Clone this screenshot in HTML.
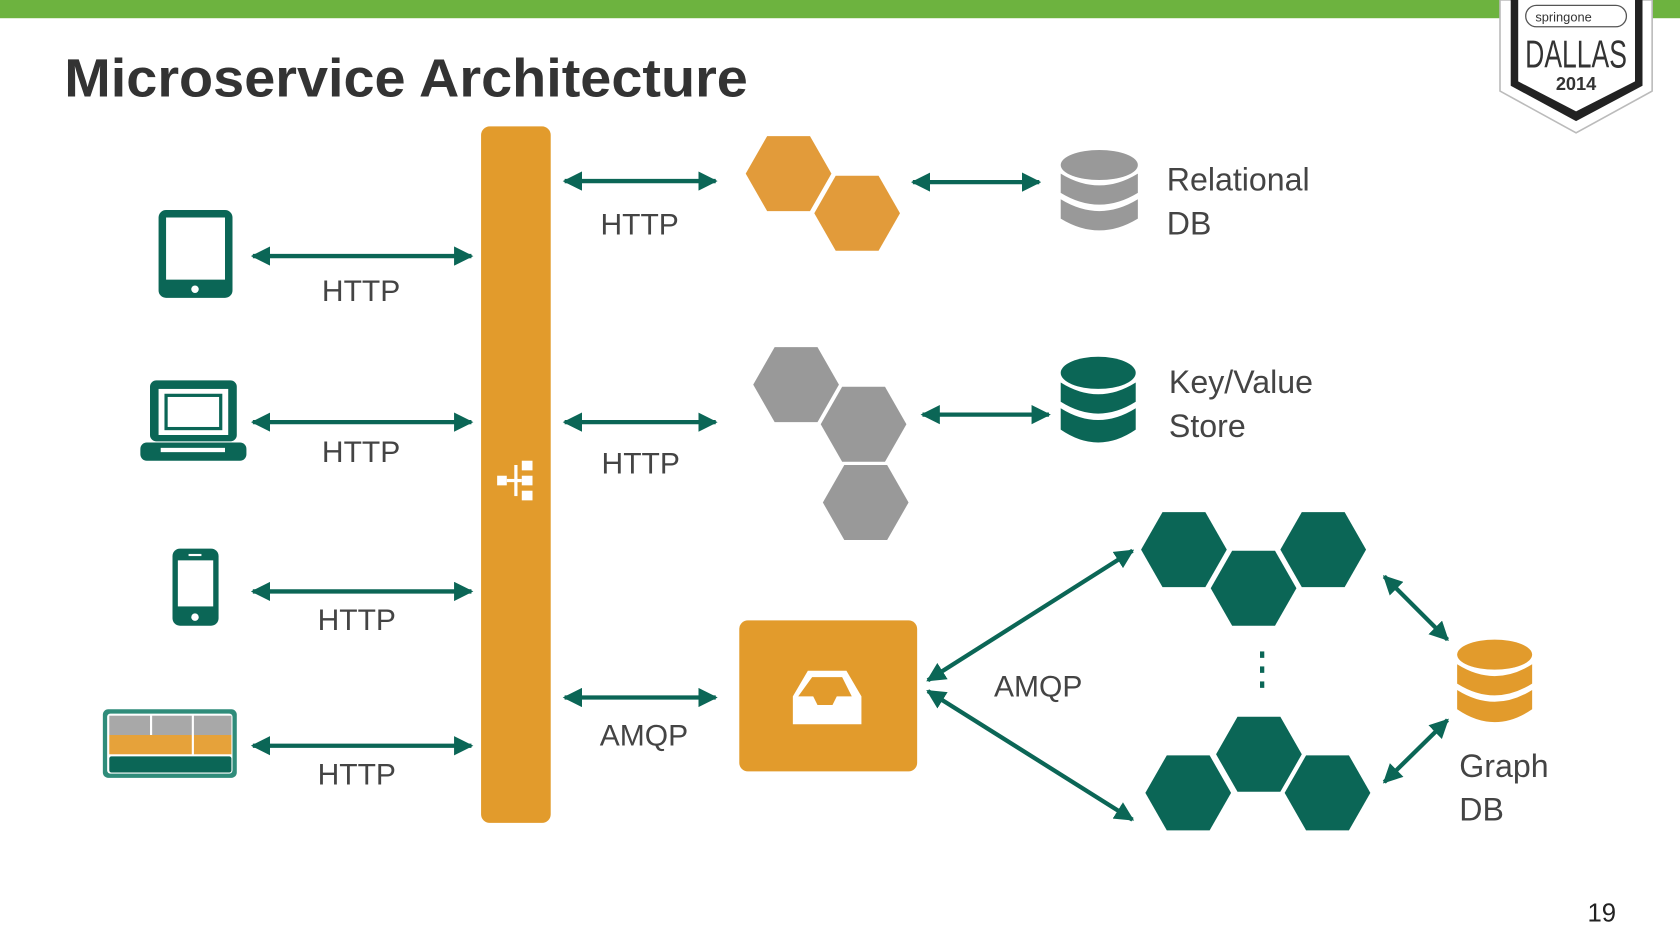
<!DOCTYPE html>
<html><head><meta charset="utf-8"><style>
html,body{margin:0;padding:0;background:#fff;}
svg{display:block;}
text{font-family:"Liberation Sans",sans-serif;}
</style></head><body>
<svg width="1680" height="945" viewBox="0 0 1568 882" xmlns="http://www.w3.org/2000/svg">
<defs>
<marker id="a" viewBox="0 0 10 10" refX="9" refY="5" markerWidth="4.5" markerHeight="4.5" orient="auto-start-reverse">
<path d="M0,0 L10,5 L0,10 z" fill="#0b6656"/></marker>
<polygon id="hx" points="-40,0 -20,-35 20,-35 40,0 20,35 -20,35"/>
</defs>
<rect x="0" y="0" width="1568" height="17" fill="#6db33f"/>
<text x="60" y="90" font-size="50" font-weight="bold" fill="#333" textLength="638" lengthAdjust="spacingAndGlyphs">Microservice Architecture</text>
<!-- logo -->
<polygon points="1400,0 1542,0 1542,85 1471,124 1400,85" fill="#fff" stroke="#bbb" stroke-width="1.5"/>
<polygon points="1410,0 1533,0 1533,80 1471,113 1410,80" fill="#222"/>
<polygon points="1417,0 1526,0 1526,76 1471,104 1417,76" fill="#fff"/>
<rect x="1424" y="5" width="94" height="20" rx="10" fill="none" stroke="#555" stroke-width="1.2"/>
<text x="1433" y="20" font-size="12" fill="#333">springone</text>
<text x="1471" y="63" font-size="36" text-anchor="middle" fill="#333" textLength="95" lengthAdjust="spacingAndGlyphs">DALLAS</text>
<text x="1471" y="84" font-size="17" text-anchor="middle" fill="#333" font-weight="bold">2014</text>
<!-- orange bar -->
<rect x="449" y="118" width="65" height="650" rx="8" fill="#e29b2c"/>
<g fill="#fff"><rect x="464" y="444" width="9" height="9"/><rect x="487" y="430" width="10" height="9"/><rect x="487" y="444" width="10" height="9"/><rect x="487" y="458" width="10" height="9"/><rect x="473" y="447" width="14" height="3"/><rect x="480" y="434" width="3" height="29"/></g>
<!-- arrows -->
<g stroke="#0b6656" stroke-width="4" marker-start="url(#a)" marker-end="url(#a)">
<line x1="236" y1="239" x2="440" y2="239"/><line x1="236" y1="394" x2="440" y2="394"/>
<line x1="236" y1="552" x2="440" y2="552"/><line x1="236" y1="696" x2="440" y2="696"/>
<line x1="527" y1="169" x2="668" y2="169"/><line x1="527" y1="394" x2="668" y2="394"/>
<line x1="527" y1="651" x2="668" y2="651"/>
<line x1="852" y1="170" x2="970" y2="170"/><line x1="861" y1="387" x2="979" y2="387"/>
<line x1="866" y1="635" x2="1057" y2="514"/><line x1="866" y1="645" x2="1057" y2="765"/>
<line x1="1292" y1="538" x2="1351" y2="597"/><line x1="1292" y1="730" x2="1351" y2="672"/>
</g>
<g font-size="28" fill="#444" text-anchor="middle">
<text x="337" y="281">HTTP</text><text x="337" y="431">HTTP</text>
<text x="333" y="588">HTTP</text><text x="333" y="732">HTTP</text>
<text x="597" y="219">HTTP</text><text x="598" y="442">HTTP</text>
<text x="601" y="696">AMQP</text>
<text x="969" y="650">AMQP</text>
</g>
<g font-size="30" fill="#444">
<text x="1089" y="178">Relational</text><text x="1089" y="219">DB</text>
<text x="1091" y="367">Key/Value</text><text x="1091" y="408">Store</text>
<text x="1362" y="725">Graph</text><text x="1362" y="766">DB</text>
</g>
<!-- hexes -->
<g fill="#e29b3a"><use href="#hx" x="736" y="162"/><use href="#hx" x="800" y="199"/></g>
<g fill="#999"><use href="#hx" x="743" y="359"/><use href="#hx" x="806" y="396"/><use href="#hx" x="808" y="469"/></g>
<g fill="#0b6656"><use href="#hx" x="1105" y="513"/><use href="#hx" x="1235" y="513"/><use href="#hx" x="1170" y="549"/>
<use href="#hx" x="1175" y="704"/><use href="#hx" x="1109" y="740"/><use href="#hx" x="1239" y="740"/></g>
<g fill="#0b6656"><rect x="1176" y="608" width="4" height="6"/><rect x="1176" y="622" width="4" height="6"/><rect x="1176" y="636" width="4" height="6"/></g>
<!-- DBs -->
<g fill="#999">
<ellipse cx="1026" cy="154" rx="36" ry="14"/>
<path d="M990,162 q36,22 72,0 v18 q-36,22 -72,0z"/>
<path d="M990,186 q36,22 72,0 v18 q-36,22 -72,0z"/>
</g>
<g fill="#0b6656">
<ellipse cx="1025" cy="348" rx="35" ry="15"/>
<path d="M990,357 q35,22 70,0 v18 q-35,22 -70,0z"/>
<path d="M990,381 q35,22 70,0 v20 q-35,24 -70,0z"/>
</g>
<g fill="#e29b2c">
<ellipse cx="1395" cy="611" rx="35" ry="14"/>
<path d="M1360,620 q35,22 70,0 v18 q-35,22 -70,0z"/>
<path d="M1360,644 q35,22 70,0 v18 q-35,24 -70,0z"/>
</g>
<!-- inbox box -->
<rect x="690" y="579" width="166" height="141" rx="8" fill="#e29b2c"/>
<path d="M740,676 v-26 l14,-24 h36 l14,24 v26z" fill="#fff"/>
<path d="M758,632 h28 l9,18 h-14 l-4,8 h-14 l-4,-8 h-14z" fill="#e29b2c"/>
<!-- devices -->
<rect x="148" y="196" width="69" height="82" rx="7" fill="#0b6656"/>
<rect x="155" y="203" width="55" height="58" fill="#fff"/>
<circle cx="182" cy="270" r="3.5" fill="#fff"/>
<rect x="140" y="355" width="81" height="57" rx="6" fill="#0b6656"/>
<rect x="148" y="363" width="65" height="43" fill="#fff"/>
<rect x="155" y="369" width="51" height="31" fill="none" stroke="#0b6656" stroke-width="3"/>
<rect x="131" y="413" width="99" height="17" rx="6" fill="#0b6656"/>
<rect x="150" y="418" width="60" height="4" fill="#fff"/>
<rect x="161" y="512" width="43" height="72" rx="7" fill="#0b6656"/>
<rect x="166" y="523" width="33" height="43" fill="#fff"/>
<circle cx="182" cy="576" r="3.5" fill="#fff"/>
<rect x="176" y="517" width="12" height="2" fill="#fff"/>
<rect x="96" y="662" width="125" height="64" rx="5" fill="#2f8c7a"/>
<rect x="100" y="666" width="117" height="56" rx="3" fill="#fff"/>
<g fill="#a8a8a8"><rect x="102" y="668" width="38" height="18"/><rect x="142" y="668" width="37" height="18"/><rect x="181" y="668" width="35" height="18"/></g>
<g fill="#e6a23a"><rect x="102" y="686" width="77" height="18"/><rect x="181" y="686" width="35" height="18"/></g>
<rect x="102" y="706" width="114" height="15" rx="2" fill="#0b6656"/>
<text x="1495" y="860" font-size="24" fill="#222" text-anchor="middle">19</text>
</svg>
</body></html>
